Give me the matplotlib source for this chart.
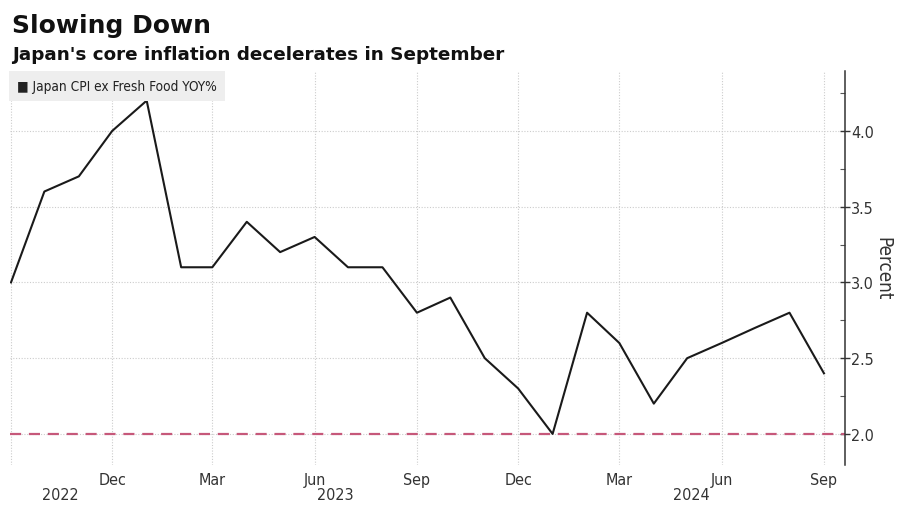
"""
Japan core CPI (ex fresh food) YoY, Sep 2022 - Sep 2024.
"""

import pandas as pd
import matplotlib.pyplot as plt
import matplotlib.dates as mdates
from matplotlib.ticker import MultipleLocator


# ─── Data ─────────────────────────────────────────────────────────────────────

START_MONTH = '2022-09-01'
END_MONTH = '2024-09-01'
cpi_yoy = [3.0, 3.6, 3.7, 4.0, 4.2, 3.1, 3.1, 3.4, 3.2, 3.3, 3.1, 3.1, 2.8,
           2.9, 2.5, 2.3, 2.0, 2.8, 2.6, 2.2, 2.5, 2.6, 2.7, 2.8, 2.4]
target_rate = 2.0
y_ticks = [2.0, 2.5, 3.0, 3.5, 4.0]
year_labels = ['2022', '2023', '2024']
year_label_dates = ['2022-10-15', '2023-06-20', '2024-05-05']

TITLE = 'Slowing Down'
SUBTITLE = "Japan's core inflation decelerates in September"
SERIES_NAME = 'Japan CPI ex Fresh Food YOY%'


# ─── Plot ─────────────────────────────────────────────────────────────────────

months = pd.date_range(START_MONTH, END_MONTH, freq='MS')

plt.rcParams['font.family'] = ['DejaVu Sans']
small = dict(family='DejaVu Sans', stretch='condensed', color='#333333')

fig = plt.figure(figsize=(9, 5.1), dpi=100)
ax = fig.add_axes([0.011, 0.0863, 0.928, 0.7727])

ax.plot(months, cpi_yoy, color='#1a1a1a', lw=1.5, zorder=3)
ax.axhline(target_rate, color='#c6587a', lw=1.6, ls=(0, (5, 3.5)), zorder=2)

ax.set_xlim(pd.Timestamp('2022-08-31'), pd.Timestamp('2024-09-20'))
ax.set_ylim(1.795, 4.396)

# x axis: quarter months, with year labels underneath
ax.xaxis.set_major_locator(mdates.MonthLocator(bymonth=[3, 6, 9, 12]))
ax.xaxis.set_major_formatter(mdates.DateFormatter('%b'))
ax.tick_params(axis='x', length=0, pad=5, labelsize=11)
ax.figure.canvas.draw()
xlabels = ax.get_xticklabels()
for lab in xlabels:
    lab.set_fontproperties(dict(family='DejaVu Sans', stretch='condensed',
                                size=11.5))
    lab.set_color('#333333')
xlabels[0].set_visible(False)

for lbl, d in zip(year_labels, year_label_dates):
    ax.annotate(lbl, xy=(mdates.date2num(pd.Timestamp(d)), 0),
                xycoords=('data', 'axes fraction'), xytext=(0, -16),
                textcoords='offset points', ha='center', va='top',
                fontsize=11.5, **small)

# y axis on right
ax.yaxis.tick_right()
ax.yaxis.set_label_position('right')
ax.set_yticks(y_ticks)
ax.set_yticklabels([f'{v:.1f}' for v in y_ticks])
ax.yaxis.set_minor_locator(MultipleLocator(0.25))
ax.tick_params(axis='y', which='major', direction='inout', length=7,
               width=1, pad=1, labelsize=11, colors='#333333')
ax.tick_params(axis='y', which='minor', direction='in', length=3.5,
               width=0.8, colors='#555555')
for lab in ax.get_yticklabels():
    lab.set_fontproperties(dict(family='DejaVu Sans', stretch='condensed',
                                size=11.5))
ax.set_ylabel('Percent', rotation=270, labelpad=13, fontsize=13.5, **small)

ax.grid(True, which='major', color='#cccccc', ls=(0, (1, 1.5)), lw=0.8)
ax.set_axisbelow(True)

for side in ['top', 'left', 'bottom']:
    ax.spines[side].set_visible(False)
ax.spines['right'].set_color('#333333')
ax.spines['right'].set_linewidth(1.1)

# legend box in upper left
ax.text(0.009, 0.962, '\u25a0 ' + SERIES_NAME, transform=ax.transAxes,
        ha='left', va='center', fontsize=9.8,
        family='DejaVu Sans', stretch='condensed', color='#222222',
        bbox=dict(boxstyle='square,pad=0.6', fc='#eeeeee', ec='none'))

# titles
fig.text(0.013, 0.950, TITLE, fontsize=18, fontweight='bold',
         ha='left', va='center', color='#111111')
fig.text(0.013, 0.893, SUBTITLE, fontsize=13.2, fontweight='bold',
         ha='left', va='center', color='#111111')

fig.savefig('out.png', dpi=100)
plt.close(fig)
